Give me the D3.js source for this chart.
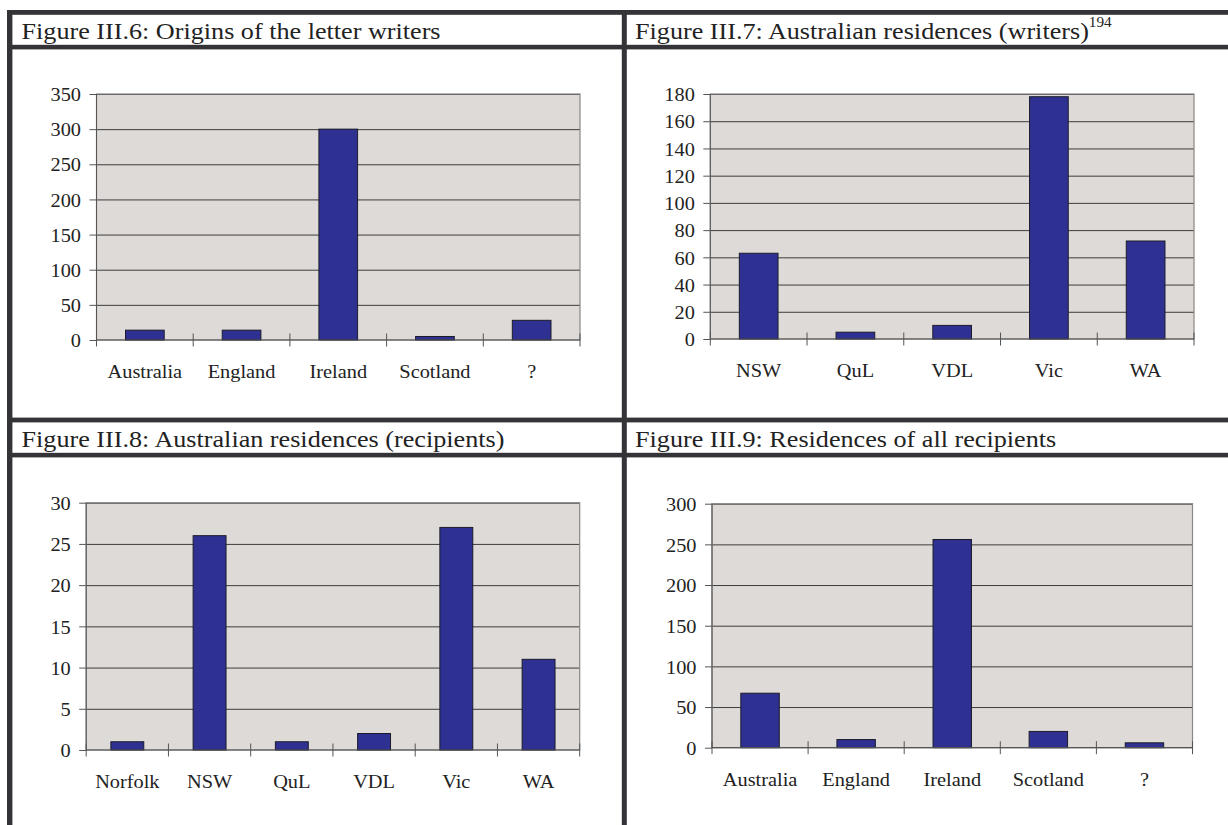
<!DOCTYPE html>
<html>
<head>
<meta charset="utf-8">
<script src="https://cdn.jsdelivr.net/npm/d3@7"></script>
<style>
  html, body { margin: 0; padding: 0; background: #ffffff; }
  svg { display: block; }
  text { font-family: "Liberation Serif", "Times New Roman", serif; fill: #222; }
</style>
</head>
<body>
<svg id="fig" width="1228" height="825"></svg>
<script>
// ---- Figure III.6: origins of the letter writers
const originCategories = ["Australia", "England", "Ireland", "Scotland", "?"];
const writerOrigins = [14, 14, 300, 5, 28];
const writerOriginTicks = [0, 50, 100, 150, 200, 250, 300, 350];

// ---- Figure III.7: Australian residences of the writers
const writerStateCategories = ["NSW", "QuL", "VDL", "Vic", "WA"];
const writerResidences = [63, 5, 10, 178, 72];
const writerResidenceTicks = [0, 20, 40, 60, 80, 100, 120, 140, 160, 180];

// ---- Figure III.8: Australian residences of the recipients
const recipientStateCategories = ["Norfolk", "NSW", "QuL", "VDL", "Vic", "WA"];
const recipientResidences = [1, 26, 1, 2, 27, 11];
const recipientResidenceTicks = [0, 5, 10, 15, 20, 25, 30];

// ---- Figure III.9: residences of all recipients
const allRecipientCategories = ["Australia", "England", "Ireland", "Scotland", "?"];
const allRecipientResidences = [67, 10, 256, 20, 6];
const allRecipientTicks = [0, 50, 100, 150, 200, 250, 300];

const titles = [
  "Figure III.6: Origins of the letter writers",
  "Figure III.7: Australian residences (writers)",
  "Figure III.8: Australian residences (recipients)",
  "Figure III.9: Residences of all recipients"
];

// ---- styling
const BAR_FILL = "#2e3192";
const BAR_STROKE = "#1b1b2a";
const PLOT_FILL = "#dedad7";
const PLOT_BORDER = "#8a8786";
const GRID = "#3d3d3d";
const AXIS = "#555";
const FRAME = "#343438";
const STRETCH = 1.1;     // the printed page is slightly widened
const TITLE_STRETCH = 1.09;
const LABEL_SIZE = 18.5;
const TITLE_SIZE = 24;

const svg = d3.select("#fig");

// ---- table frame around the four figures
const frame = svg.append("g").attr("fill", FRAME);
[[10, 4.8], [44.8, 4.6], [417.6, 4.8], [452.8, 4.6]].forEach(([y, h]) => {
  frame.append("rect").attr("x", 7).attr("y", y).attr("width", 1228 - 7).attr("height", h);
});
frame.append("rect").attr("x", 7).attr("y", 10).attr("width", 5.4).attr("height", 815);
frame.append("rect").attr("x", 621.8).attr("y", 10).attr("width", 5).attr("height", 815);

// ---- titles
const titlePos = [[21.5, 38.5], [635, 38.5], [21.5, 446.5], [635, 446.5]];
titles.forEach((t, i) => {
  const g = svg.append("g")
    .attr("transform", `translate(${titlePos[i][0]},${titlePos[i][1]}) scale(${TITLE_STRETCH},1)`);
  const txt = g.append("text").style("font-size", TITLE_SIZE + "px").text(t);
  if (i === 1) {
    txt.append("tspan").attr("dy", -12).style("font-size", "14px").text("194");
  }
});

// ---- chart panels
const panels = [
  { cats: originCategories, values: writerOrigins, ticks: writerOriginTicks,
    left: 96.5, right: 580, top: 94, bottom: 340 },
  { cats: writerStateCategories, values: writerResidences, ticks: writerResidenceTicks,
    left: 710.3, right: 1194, top: 94, bottom: 339 },
  { cats: recipientStateCategories, values: recipientResidences, ticks: recipientResidenceTicks,
    left: 86.2, right: 579.7, top: 502.7, bottom: 750 },
  { cats: allRecipientCategories, values: allRecipientResidences, ticks: allRecipientTicks,
    left: 712, right: 1192.5, top: 503.7, bottom: 747.7 }
];

panels.forEach(p => {
  const g = svg.append("g");
  const w = p.right - p.left;

  const y = d3.scaleLinear()
    .domain([0, d3.max(p.ticks)])
    .range([p.bottom, p.top]);

  // Excel-style column spacing: gap width 150% of the column
  const x = d3.scaleBand()
    .domain(p.cats)
    .range([p.left, p.right])
    .paddingInner(0.6)
    .paddingOuter(0.3);

  // plot area
  g.append("rect")
    .attr("x", p.left).attr("y", p.top)
    .attr("width", w).attr("height", p.bottom - p.top)
    .attr("fill", PLOT_FILL);

  // horizontal gridlines
  g.append("g")
    .attr("transform", `translate(${p.left},0)`)
    .call(d3.axisLeft(y).tickValues(p.ticks.filter(v => v > 0)).tickSize(-w).tickFormat(""))
    .call(a => a.select(".domain").remove())
    .call(a => a.selectAll("line").attr("stroke", GRID).attr("stroke-width", 1));

  // plot border
  g.append("rect")
    .attr("x", p.left).attr("y", p.top)
    .attr("width", w).attr("height", p.bottom - p.top)
    .attr("fill", "none").attr("stroke", PLOT_BORDER).attr("stroke-width", 1.2);

  // columns
  g.append("g").selectAll("rect")
    .data(p.values)
    .join("rect")
    .attr("x", (d, i) => x(p.cats[i]))
    .attr("y", d => y(d))
    .attr("width", x.bandwidth())
    .attr("height", d => y(0) - y(d))
    .attr("fill", BAR_FILL)
    .attr("stroke", BAR_STROKE)
    .attr("stroke-width", 1);

  // value axis
  g.append("g")
    .attr("transform", `translate(${p.left},0)`)
    .call(d3.axisLeft(y).tickValues(p.ticks).tickSize(7).tickPadding(0))
    .call(a => a.select(".domain").attr("stroke", AXIS).attr("d", `M0,${p.top}V${p.bottom}`))
    .call(a => a.selectAll("line").attr("stroke", AXIS))
    .call(a => a.selectAll("text")
      .attr("x", -15.5 / STRETCH)
      .attr("dy", "0.36em")
      .attr("transform", `scale(${STRETCH},1)`)
      .style("font-size", LABEL_SIZE + "px")
      .style("font-family", '"Liberation Serif", serif')
      .attr("fill", "#222"));

  // category axis: line at zero, tick marks between categories
  g.append("line")
    .attr("x1", p.left).attr("x2", p.right)
    .attr("y1", y(0)).attr("y2", y(0))
    .attr("stroke", AXIS).attr("stroke-width", 1.2);

  const bounds = d3.range(p.cats.length + 1).map(i => p.left + i * x.step());
  g.append("g").selectAll("line")
    .data(bounds)
    .join("line")
    .attr("x1", d => d).attr("x2", d => d)
    .attr("y1", y(0) - 6.5).attr("y2", y(0) + 6.5)
    .attr("stroke", AXIS).attr("stroke-width", 1);

  g.append("g")
    .attr("transform", `translate(0,${y(0)})`)
    .call(d3.axisBottom(x).tickSize(0))
    .call(a => a.select(".domain").remove())
    .call(a => a.selectAll("text")
      .attr("y", 38)
      .attr("dy", null)
      .attr("transform", `scale(${STRETCH},1)`)
      .style("font-size", LABEL_SIZE + "px")
      .style("font-family", '"Liberation Serif", serif')
      .attr("fill", "#222"));
});
</script>
</body>
</html>
